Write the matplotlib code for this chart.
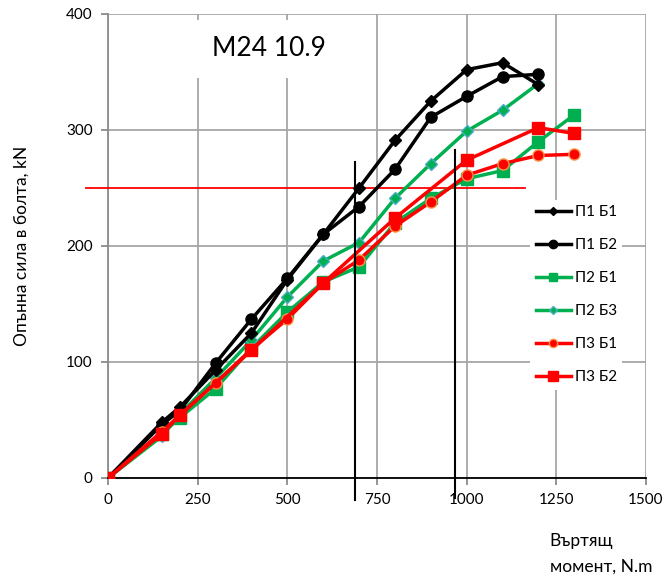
import matplotlib
matplotlib.use("Agg")
import matplotlib.pyplot as plt

plt.rcParams['font.family'] = ['Lato', 'DejaVu Sans']

# torque, N.m
x_p1 = [0, 150, 200, 300, 400, 500, 600, 700, 800, 900, 1000, 1100, 1200]
x_p2b1 = [0, 150, 200, 300, 400, 500, 600, 700, 800, 900, 1000, 1100, 1200, 1300]
x_p2b3 = [0, 150, 200, 300, 400, 500, 600, 700, 800, 900, 1000, 1100, 1200]
x_p3b1 = [0, 150, 200, 300, 400, 500, 600, 700, 800, 900, 1000, 1100, 1200, 1300]
x_p3b2 = [0, 150, 200, 400, 600, 800, 1000, 1200, 1300]

# bolt tension, kN
p1b1 = [0, 48, 61, 93, 125, 171, 210, 250, 291, 325, 352, 358, 339]
p1b2 = [0, 46, 58, 99, 137, 172, 210, 234, 266, 311, 329, 346, 348]
p2b1 = [0, 38, 52, 77, 112, 143, 169, 182, 220, 241, 258, 265, 290, 313]
p2b3 = [0, 36, 55, 86, 119, 156, 187, 203, 241, 271, 299, 317, 340]
p3b1 = [0, 40, 54, 82, 111, 137, 168, 188, 217, 238, 261, 271, 278, 279]
p3b2 = [0, 38, 54, 110, 168, 224, 274, 302, 297]

labels = ['П1 Б1', 'П1 Б2', 'П2 Б1', 'П2 Б3', 'П3 Б1', 'П3 Б2']

green = '#00B050'
red = '#FF0000'

fig = plt.figure(figsize=(6.68, 5.82), dpi=100)
ax = fig.add_axes([0.1617, 0.1787, 0.8054, 0.7973])

ax.plot(x_p1, p1b1, color='black', lw=2.5, marker='D', ms=6, label=labels[0], zorder=5)
ax.plot(x_p1, p1b2, color='black', lw=2.5, marker='o', ms=8, label=labels[1], zorder=5)
ax.plot(x_p2b1, p2b1, color=green, lw=2.5, marker='s', ms=8, label=labels[2], zorder=4)
ax.plot(x_p2b3, p2b3, color=green, lw=2.5, marker='D', ms=6, mec='#4BACC6', mfc=green,
        label=labels[3], zorder=4)
ax.plot(x_p3b1, p3b1, color=red, lw=2.5, marker='o', ms=8, mec='#F79646', mfc=red,
        label=labels[4], zorder=6)
ax.plot(x_p3b2, p3b2, color=red, lw=2.5, marker='s', ms=9, label=labels[5], zorder=6)

# reference lines
ax.plot([-60, 1163], [250, 250], color=red, lw=1.3, clip_on=False, zorder=3)
ax.plot([688, 688], [-19, 272], color='black', lw=1.5, clip_on=False, zorder=7)
ax.plot([967, 967], [-17, 283], color='black', lw=1.5, clip_on=False, zorder=7)

ax.set_xlim(0, 1500)
ax.set_ylim(0, 400)
ax.set_xticks([0, 250, 500, 750, 1000, 1250, 1500])
ax.set_yticks([0, 100, 200, 300, 400])
ax.grid(True, color='#A6A6A6', lw=1.3)
ax.set_axisbelow(True)
for s in ['top', 'right']:
    ax.spines[s].set_visible(False)
ax.spines['left'].set_color('#8C8C8C')
ax.spines['left'].set_linewidth(1.3)
ax.spines['bottom'].set_color('black')
ax.spines['bottom'].set_linewidth(1.3)
ax.tick_params(axis='both', direction='out', length=5, width=1.3, color='#8C8C8C',
               labelsize=11, pad=6)

ax.text(449, 370, 'M24 10.9', fontsize=19, ha='center', va='center',
        bbox=dict(facecolor='white', edgecolor='none', pad=12), zorder=8)

ax.set_ylabel('Опънна сила в болта, kN', fontsize=12.5, labelpad=26)
fig.text(0.823, 0.012, 'Въртящ\nмомент, N.m', fontsize=12.5, ha='left', va='bottom',
         linespacing=1.75)

leg = ax.legend(loc='upper left', bbox_to_anchor=(0.785, 0.6), frameon=True,
                fontsize=11, handlelength=2.3, labelspacing=1.25, handletextpad=0.25,
                borderpad=0.35, borderaxespad=0, markerscale=0.75)
leg.get_frame().set_facecolor('white')
leg.get_frame().set_edgecolor('none')
leg.get_frame().set_alpha(1)
leg.set_zorder(9)

fig.savefig('out.png', dpi=100)
